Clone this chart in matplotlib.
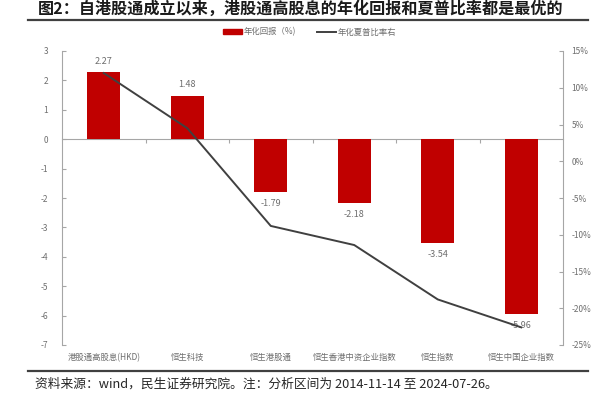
import matplotlib
matplotlib.use("Agg")
import matplotlib.pyplot as plt
from matplotlib.ticker import FuncFormatter
from matplotlib.patches import Patch
from matplotlib.lines import Line2D

plt.rcParams['font.family'] = ['Noto Sans CJK SC', 'DejaVu Sans']
plt.rcParams['axes.unicode_minus'] = False

# data
categories = ["港股通高股息(HKD)", "恒生科技", "恒生港股通", "恒生香港中资企业指数", "恒生指数", "恒生中国企业指数"]
annual_return = [2.27, 1.48, -1.79, -2.18, -3.54, -5.96]        # 年化回报 (%)
sharpe = [12.0, 4.5, -8.8, -11.4, -18.8, -22.6]                 # 年化夏普比率 (right axis, %)
left_ticks = [3, 2, 1, 0, -1, -2, -3, -4, -5, -6, -7]
right_ticks = [15, 10, 5, 0, -5, -10, -15, -20, -25]

title = "图2：自港股通成立以来，港股通高股息的年化回报和夏普比率都是最优的"
source = "资料来源：wind，民生证券研究院。注：分析区间为 2014-11-14 至 2024-07-26。"

W, H = 616, 399
fig = plt.figure(figsize=(W / 100, H / 100), dpi=100)

grey = "#6E6E6E"
axis_grey = "#A6A6A6"
red = "#C00000"

ax = fig.add_axes([62 / W, (H - 345) / H, 501 / W, 294 / H])
x = list(range(len(categories)))
ax.bar(x, annual_return, width=0.4, color=red, zorder=2)
ax.set_xlim(-0.5, len(categories) - 0.5)
ax.set_ylim(min(left_ticks), max(left_ticks))
ax.set_yticks(left_ticks)
ax.set_yticklabels([str(t) for t in left_ticks])
ax.tick_params(axis='y', direction='in', length=3, color=axis_grey, labelcolor=grey,
               labelsize=6, pad=10)
ax.set_xticks(x)
ax.set_xticklabels(categories)
ax.tick_params(axis='x', length=0, labelcolor=grey, labelsize=6, pad=6)
for s in ['top', 'bottom', 'right']:
    ax.spines[s].set_visible(False)
ax.spines['left'].set_color(axis_grey)

# zero line with category separators
ymin, ymax = ax.get_ylim()
zero_ax = ax.secondary_xaxis((0 - ymin) / (ymax - ymin))
zero_ax.set_xticks([i + 0.5 for i in x[:-1]])
zero_ax.set_xticklabels([])
zero_ax.tick_params(direction='in', length=3, color=axis_grey)
zero_ax.spines['bottom'].set_color(axis_grey)
zero_ax.spines['top'].set_color(axis_grey)

for xi, v in zip(x, annual_return):
    ax.annotate(f"{v:.2f}", (xi, v), xytext=(0, 5 if v > 0 else -5), textcoords='offset points',
                ha='center', va='bottom' if v > 0 else 'top', fontsize=6.5, color=grey)

ax2 = ax.twinx()
ax2.plot(x, sharpe, color="#404040", linewidth=1.4, zorder=3)
ax2.set_ylim(min(right_ticks), max(right_ticks))
ax2.set_yticks(right_ticks)
ax2.yaxis.set_major_formatter(FuncFormatter(lambda v, p: f"{v:.0f}%"))
ax2.tick_params(axis='y', direction='in', length=3, color=axis_grey, labelcolor=grey,
                labelsize=6, pad=6)
for s in ['top', 'bottom', 'left']:
    ax2.spines[s].set_visible(False)
ax2.spines['right'].set_color(axis_grey)

handles = [Patch(color=red, label="年化回报（%)"),
           Line2D([], [], color="#404040", linewidth=1.4, label="年化夏普比率右")]
fig.legend(handles=handles, loc='center', bbox_to_anchor=(310 / W, 1 - 32 / H), ncol=2,
           frameon=False, fontsize=6, labelcolor=grey, handlelength=2.2, handleheight=0.5,
           columnspacing=2.5, handletextpad=0.3)

fig.text(38 / W, 1 - 9 / H, title, fontsize=11.6, fontweight='bold', color="#1A1A1A", va='center')
fig.add_artist(Line2D([28 / W, 588 / W], [1 - 20 / H, 1 - 20 / H], color="#404040", linewidth=1.6))
fig.add_artist(Line2D([28 / W, 588 / W], [1 - 371 / H, 1 - 371 / H], color="#404040", linewidth=1.6))
fig.text(35 / W, 1 - 384 / H, source, fontsize=9.2, color="#262626", va='center')

fig.savefig("out.png", dpi=100)
